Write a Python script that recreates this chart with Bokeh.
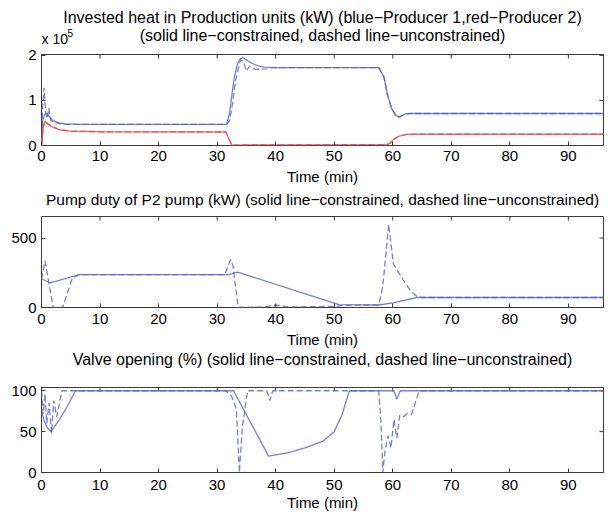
import math
from bokeh.plotting import figure
from bokeh.models import Range1d, FixedTicker
from bokeh.core.properties import value
from bokeh.layouts import column
from bokeh.embed import file_html
from bokeh.resources import INLINE

# ---------------- data ----------------
# Panel 1: invested heat (kW)
p1_t_blue_c = [0, 0.2, 0.5, 0.8, 1.2, 2.0, 3.0, 4.0, 6.0, 31.6, 32.1, 32.6, 33.0, 33.5, 34.0, 34.4, 35.0, 36.0, 37.0, 38.0, 40.0, 57.6, 58.5, 59.1, 59.8, 60.5, 61.1, 62.1, 63.0, 65.0, 96.0]
p1_v_blue_c = [0, 55000, 67000, 72000, 66000, 55000, 50000, 48000, 47000, 47000, 70000, 120000, 155000, 182000, 193000, 195000, 190000, 182000, 177000, 174000, 173000, 173000, 152000, 113000, 82000, 67000, 63000, 70000, 71000, 71000, 71000]
p1_t_blue_u = [0, 0.2, 0.45, 0.7, 1.0, 1.25, 1.6, 2.5, 4.0, 31.6, 32.1, 32.6, 33.0, 33.4, 34.0, 34.5, 35.0, 35.5, 36.5, 38.6, 39.5, 57.6, 58.5, 59.1, 59.8, 60.5, 61.1, 62.1, 63.0, 65.0, 96.0]
p1_v_blue_u = [0, 90000, 128000, 75000, 60000, 83000, 55000, 50000, 47000, 47000, 55000, 90000, 130000, 160000, 190000, 186000, 165000, 176000, 169000, 170000, 173000, 173000, 152000, 113000, 82000, 67000, 63000, 70000, 71000, 71000, 71000]
p1_t_red_c = [0, 0.3, 0.6, 1.0, 2.0, 3.0, 5.0, 10.0, 31.5, 32.0, 32.5, 45.0, 59.0, 59.5, 60.1, 61.1, 62.4, 64.0, 96.0]
p1_v_red_c = [0, 40000, 54000, 48000, 40000, 35000, 32000, 30500, 30000, 15000, 1000, 1500, 2000, 5000, 13000, 21000, 24500, 25000, 25000]
p1_t_red_u = [0, 0.3, 0.6, 1.0, 2.0, 3.0, 5.0, 10.0, 31.5, 32.0, 32.5, 45.0, 59.0, 59.5, 60.1, 61.1, 62.4, 64.0, 96.0]
p1_v_red_u = [0, 42000, 55000, 49000, 41000, 35500, 32000, 30500, 30000, 15000, 1000, 1500, 2000, 5000, 13000, 21000, 24500, 25000, 25000]

# Panel 2: pump duty (kW)
p2_t_c = [0, 1.5, 6.5, 32.0, 33.5, 50.8, 57.6, 60.1, 64.1, 96.0]
p2_v_c = [205, 178, 237, 237, 255, 20, 18, 33, 72, 72]
p2_t_u = [0, 0.6, 1.0, 2.0, 3.6, 5.3, 6.5, 31.3, 32.3, 32.7, 33.6, 38.0, 40.0, 42.0, 50.0, 52.0, 57.6, 58.3, 59.3, 60.1, 61.8, 63.1, 64.1, 65.0, 96.0]
p2_v_u = [205, 335, 240, 0, 0, 215, 237, 237, 345, 300, 0, 3, 18, 4, 8, 16, 18, 150, 600, 314, 198, 116, 81, 72, 72]

# Panel 3: valve opening (%)
p3_t_c = [0, 0.5, 1.0, 1.6, 3.0, 4.5, 5.8, 32.8, 38.8, 42.0, 45.0, 48.0, 50.0, 51.3, 52.6, 60.2, 60.7, 61.3, 96.0]
p3_v_c = [75, 62, 55, 50, 64, 82, 100, 100, 20, 24, 30, 38, 50, 70, 100, 100, 90, 100, 100]
p3_t_u = [0, 0.3, 0.6, 0.9, 1.3, 1.7, 2.1, 2.6, 3.5, 31.5, 32.5, 33.3, 33.8, 34.3, 35.2, 38.5, 39.0, 39.5, 57.6, 58.0, 58.3, 58.7, 59.2, 59.7, 60.2, 60.7, 61.2, 61.8, 62.5, 63.2, 64.5, 96.0]
p3_v_u = [100, 72, 96, 60, 85, 48, 88, 68, 100, 100, 93, 77, 0, 55, 100, 100, 88, 100, 100, 60, 0, 28, 45, 30, 65, 42, 70, 68, 72, 71, 100, 100]

x_ticks = [0, 10, 20, 30, 40, 50, 60, 70, 80, 90]
X_END = 96

title1 = "Invested heat in Production units (kW) (blue\u2212Producer 1,red\u2212Producer 2)"
title1b = "(solid line\u2212constrained, dashed line\u2212unconstrained)"
title2 = "Pump duty of P2 pump (kW) (solid line\u2212constrained, dashed line\u2212unconstrained)"
title3 = "Valve opening (%) (solid line\u2212constrained, dashed line\u2212unconstrained)"

BLUE = "#5660c8"
RED = "#f04848"
AXC = "#3a3a3a"
FONT = "Liberation Sans"
FS = "15px"
TFS = "16px"
DASH = "6 3"
LW = 1.3
LA = 0.8
W = 608
FRAME_L, FRAME_R = 41, 5
XC = X_END / 2  # centre of the time axis


def header(height):
    """Strip above a panel that holds its title text (y measured up from strip bottom)."""
    h = figure(width=W, height=height, output_backend="svg", toolbar_location=None,
               x_range=Range1d(0, X_END), y_range=Range1d(0, height),
               x_axis_location=None, y_axis_location=None,
               min_border_left=FRAME_L, min_border_right=FRAME_R,
               min_border_top=0, min_border_bottom=0)
    h.grid.visible = False
    h.outline_line_color = None
    return h


def put_text(h, x, y, text, size=TFS, align="center", x_offset=0):
    h.text(x=[x], y=[y], text=[text], text_font=value(FONT), text_font_size=value(size),
           text_align=align, text_baseline="middle", text_color="black", x_offset=x_offset)


def make_fig(height, top, bottom, y_end, y_ticks, tick_sd, label_sd, overrides=None):
    p = figure(width=W, height=height, output_backend="svg", toolbar_location=None,
               x_range=Range1d(0, X_END), y_range=Range1d(0, y_end),
               min_border_left=FRAME_L, min_border_right=FRAME_R,
               min_border_top=top, min_border_bottom=bottom)
    p.grid.visible = False
    p.outline_line_color = AXC
    p.outline_line_width = 1
    for ax in (p.xaxis[0], p.yaxis[0]):
        ax.axis_line_color = None
        ax.major_tick_in = 4
        ax.major_tick_out = 0
        ax.minor_tick_line_color = None
        ax.major_tick_line_color = AXC
        ax.major_label_text_font = FONT
        ax.major_label_text_font_size = FS
        ax.major_label_text_color = "black"
        ax.axis_label_text_font = FONT
        ax.axis_label_text_font_size = FS
        ax.axis_label_text_font_style = "normal"
        ax.axis_label_text_color = "black"
    p.xaxis.ticker = FixedTicker(ticks=x_ticks)
    p.xaxis.axis_label = "Time (min)"
    p.xaxis.major_label_standoff = tick_sd
    p.xaxis.axis_label_standoff = label_sd
    p.yaxis.ticker = FixedTicker(ticks=y_ticks)
    p.yaxis.major_label_standoff = 5
    if overrides:
        p.yaxis.major_label_overrides = overrides
    # mirrored inner ticks on top and right edges
    p.scatter(x=x_ticks, y=[y_end] * len(x_ticks), marker="dash", angle=math.pi / 2,
              size=8, line_color=AXC, line_width=1)
    p.scatter(x=[X_END] * len(y_ticks), y=y_ticks, marker="dash", angle=0,
              size=8, line_color=AXC, line_width=1)
    return p


def add_lines(p, t, v, color, dashed):
    p.line(t, v, line_color=color, line_width=LW, line_alpha=LA,
           line_dash=DASH if dashed else "solid")


# header 1 (canvas rows 0-45)
h1 = header(45)
put_text(h1, XC, 28, title1)
put_text(h1, XC, 10, title1b)
put_text(h1, 0, 7, "x 10", size="14px", align="left")
put_text(h1, 0, 13, "5", size="10px", align="left", x_offset=26)

P1_YEND = 202000
p1 = make_fig(142, 9, 42, P1_YEND, [0, 100000, 200000], 5, 4,
              overrides={0: "0", 100000: "1", 200000: "2"})
add_lines(p1, p1_t_blue_c, p1_v_blue_c, BLUE, False)
add_lines(p1, p1_t_blue_u, p1_v_blue_u, BLUE, True)
add_lines(p1, p1_t_red_c, p1_v_red_c, RED, False)
add_lines(p1, p1_t_red_u, p1_v_red_u, RED, True)

h2 = header(28)
put_text(h2, XC, 16, title2, size="15.5px")

p2 = make_fig(135, 1, 42, 655, [0, 500], 6, 4)
add_lines(p2, p2_t_c, p2_v_c, BLUE, False)
add_lines(p2, p2_t_u, p2_v_u, BLUE, True)

h3 = header(31)
put_text(h3, XC, 22, title3)

p3 = make_fig(134, 6, 43, 104, [0, 50, 100], 7, 1)
add_lines(p3, p3_t_c, p3_v_c, BLUE, False)
add_lines(p3, p3_t_u, p3_v_u, BLUE, True)

layout = column(h1, p1, h2, p2, h3, p3, spacing=0)
open("out.html", "w").write(file_html(layout, INLINE))
